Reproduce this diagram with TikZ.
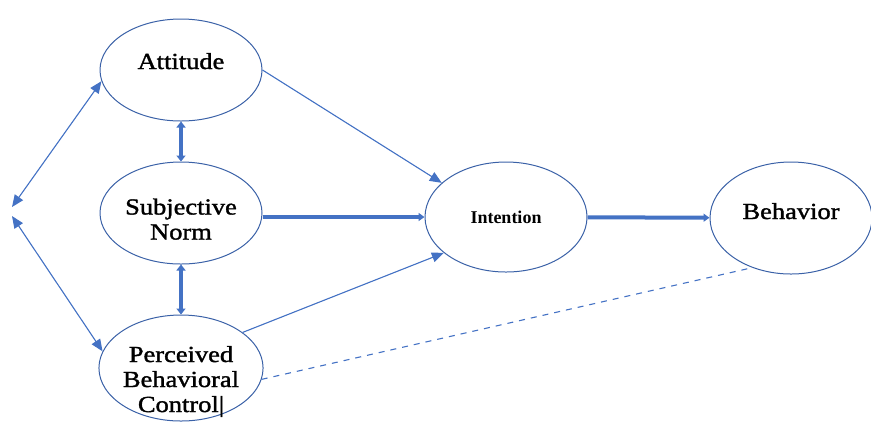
\documentclass[tikz,border=0pt]{standalone}
\usepackage{fontspec}
\setmainfont{Liberation Serif}
\newfontfamily\wideserif[FakeStretch=1.15,FakeBold=1.5]{Liberation Serif}
\usepackage{xcolor}
\usetikzlibrary{
arrows.meta,
positioning,
shapes.geometric
}
\definecolor{linkblue}{HTML}{4472C4}
% text set lower or higher inside its ellipse
\newcommand{\lowered}[2]{\raisebox{-#1}[0pt][0pt]{\begin{tabular}{@{}c@{}}#2\end{tabular}}}

\begin{document}
\begin{tikzpicture}[
x=0.5pt,y=-0.5pt,
node distance=20pt,
construct/.style={
draw=linkblue!85!black,
ellipse,
line width=0.5pt,
inner sep=0pt,
minimum width=81pt,
minimum height=51pt,
font=\wideserif\fontsize{11.5}{12.5}\selectfont
},
thinarrow/.style={-{Triangle[length=6pt,width=5pt]},draw=linkblue,fill=linkblue,line width=0.55pt},
thickarrow/.style={-{Triangle[length=3pt,width=4pt]},draw=linkblue,fill=linkblue,line width=2pt},
bothway/.style={{Triangle[length=3pt,width=4.5pt]}-{Triangle[length=3pt,width=4.5pt]},draw=linkblue,fill=linkblue,line width=2pt},
linkarrow/.style={{Triangle[length=6pt,width=5pt]}-{Triangle[length=6pt,width=5pt]},draw=linkblue,fill=linkblue,line width=0.55pt},
dashedlink/.style={draw=linkblue,dashed,line width=0.55pt}
]

\useasboundingbox (0,0) rectangle (871,425);

\node[construct] (attitude) at (181,70) {\lowered{0pt}{Attitude}};
\node[construct,below=20pt of attitude] (norm) {\lowered{7.5pt}{Subjective\\Norm}};
\node[construct,below=25pt of norm,minimum height=53pt] (control) {\lowered{10pt}{Perceived\\Behavioral\\Control|}};
\node[construct,minimum height=55pt,font=\bfseries\fontsize{9}{10}\selectfont] (intention) at (506,217) {Intention};
\node[construct,minimum height=56pt] (behavior) at (791,218) {\lowered{1pt}{Behavior}};

\coordinate (upper) at (12,207);
\coordinate (lower) at (12,216);

% links between the beliefs
\draw[linkarrow] (upper) -- (attitude.188);
\draw[linkarrow] (lower) -- (control.168);
\draw[bothway] (attitude) -- (norm);
\draw[bothway] (norm) -- (control);

% paths to intention and behavior
\draw[thinarrow] (attitude.east) -- (intention.152);
\draw[thickarrow] (norm.east |- intention) -- (intention);
\draw[thinarrow] (control.30) -- (intention.210);
\draw[thickarrow] (intention) -- (behavior);
\draw[dashedlink] (control.-8) -- (behavior.232);

\end{tikzpicture}
\end{document}
